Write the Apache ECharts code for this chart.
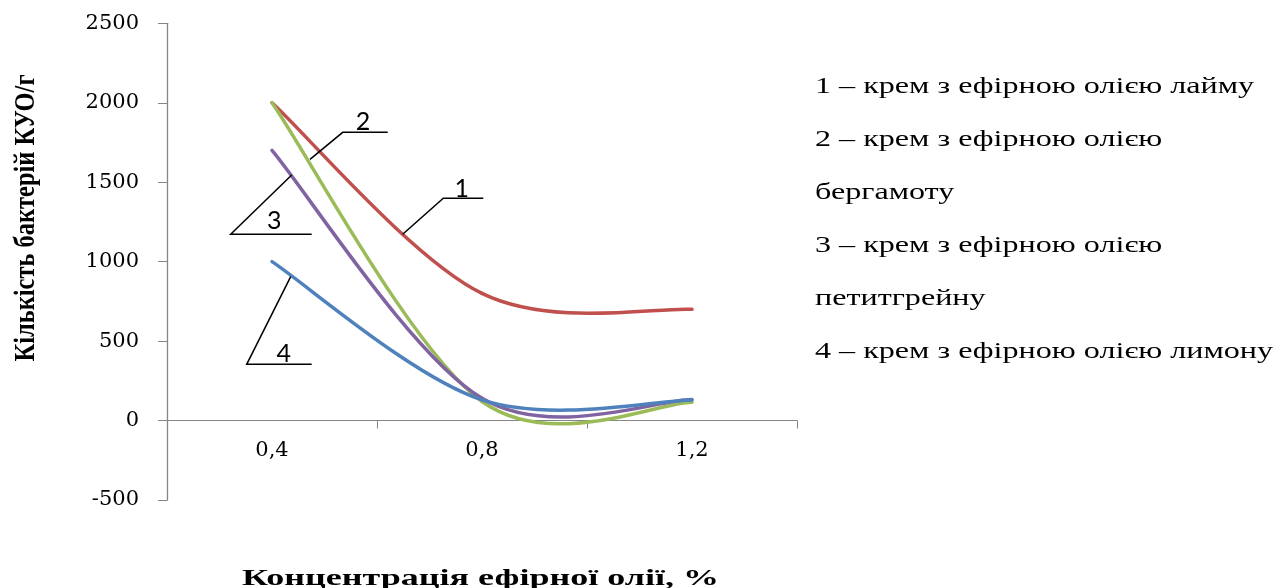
<!DOCTYPE html>
<html><head><meta charset="utf-8">
<script src="https://cdn.jsdelivr.net/npm/echarts@6.0.0/dist/echarts.min.js"></script>
<style>html,body{margin:0;padding:0;background:#fff}#c{width:1283px;height:588px}</style>
</head><body><div id="c"></div>
<script>
// ---- data ----
const categories = ['0,4', '0,8', '1,2'];
const limeValues = [2000, 800, 700];        // 1 – лайм
const bergamotValues = [2000, 120, 115];    // 2 – бергамот
const petitgrainValues = [1700, 140, 132];  // 3 – петитгрейн
const lemonValues = [1000, 130, 130];       // 4 – лимон
const yMin = -500, yMax = 2500, yStep = 500;
const legendLines = [
  '1 – крем з ефірною олією лайму',
  '2 – крем з ефірною олією',
  'бергамоту',
  '3 – крем з ефірною олією',
  'петитгрейну',
  '4 – крем з ефірною олією лимону'
];
const calloutLabels = ['1', '2', '3', '4'];
const xTitle = 'Концентрація ефірної олії, %';
const yTitle = 'Кількість бактерій КУО/г';

// ---- text measuring helper ----
const mctx = document.createElement('canvas').getContext('2d');
function tw(text, font) { mctx.font = font; return mctx.measureText(text).width; }

const legendFont = '24px "Liberation Serif"';
const legendScale = 458 / tw(legendLines[5], legendFont);
const xTitleFont = 'bold 23px "Liberation Serif"';
const xTitleScale = 477 / tw(xTitle, xTitleFont);
const yTitleFont = 'bold 22px "Liberation Serif"';
const yTitleScale = 287 / tw(yTitle, yTitleFont);

const graphics = [];
legendLines.forEach((t, i) => {
  graphics.push({
    type: 'text', x: 815, y: 87 + i * 53, scaleX: legendScale,
    style: { text: t, font: legendFont, fill: '#000', align: 'left', verticalAlign: 'middle', textAlign: 'left', textVerticalAlign: 'middle' }
  });
});
graphics.push({
  type: 'text', x: 480.5, y: 579, scaleX: xTitleScale,
  style: { text: xTitle, font: xTitleFont, fill: '#000', align: 'center', verticalAlign: 'middle', textAlign: 'center', textVerticalAlign: 'middle' }
});
graphics.push({
  type: 'text', x: 26, y: 218, rotation: Math.PI / 2, scaleX: yTitleScale, scaleY: 1.35,
  style: { text: yTitle, font: yTitleFont, fill: '#000', align: 'center', verticalAlign: 'middle', textAlign: 'center', textVerticalAlign: 'middle' }
});
const leaders = [
  [[402.7, 234.3], [443.3, 198.3], [483.3, 198.3]],
  [[310, 159.3], [342.7, 132.3], [387.7, 132.3]],
  [[291.7, 175], [230.7, 234.3], [311.7, 234.3]],
  [[290.7, 276.7], [246.7, 364.3], [311.7, 364.3]]
];
const calloutPos = [[461.7, 188.3], [363, 120.5], [274.2, 219.5], [283.8, 352.5]];
leaders.forEach(pts => graphics.push({
  type: 'polyline', z: 100, shape: { points: pts },
  style: { stroke: '#000', lineWidth: 1.5, fill: null }
}));
calloutLabels.forEach((t, i) => graphics.push({
  type: 'text', z: 100, x: calloutPos[i][0], y: calloutPos[i][1] + 1,
  style: { text: t, font: '25px Lato', fill: '#000', align: 'center', verticalAlign: 'middle', textAlign: 'center', textVerticalAlign: 'middle' }
}));

const axisGray = '#868686';
// Excel-style smoothed line (Catmull-Rom Bezier through the data points), drawn via the axes' scales
function curveSeries(name, values, color) {
  return {
    name, type: 'custom', coordinateSystem: 'cartesian2d',
    data: values.map((v, i) => [i, v]),
    encode: { x: 0, y: 1 },
    clip: false,
    renderItem: function (params, api) {
      if (params.dataIndex !== 0) return null;
      const pts = values.map((v, i) => api.coord([i, v]));
      const n = pts.length;
      const children = [];
      for (let i = 0; i < n - 1; i++) {
        const p0 = pts[Math.max(i - 1, 0)], p1 = pts[i], p2 = pts[i + 1], p3 = pts[Math.min(i + 2, n - 1)];
        children.push({
          type: 'bezierCurve',
          shape: {
            x1: p1[0], y1: p1[1], x2: p2[0], y2: p2[1],
            cpx1: p1[0] + (p2[0] - p0[0]) / 6, cpy1: p1[1] + (p2[1] - p0[1]) / 6,
            cpx2: p2[0] - (p3[0] - p1[0]) / 6, cpy2: p2[1] - (p3[1] - p1[1]) / 6
          },
          style: { stroke: color, lineWidth: 3.5, fill: null, lineCap: 'round' }
        });
      }
      return { type: 'group', children };
    }
  };
}

const chart = echarts.init(document.getElementById('c'), null, { renderer: 'canvas' });
chart.setOption({
  animation: false,
  backgroundColor: '#fff',
  grid: { left: 167, right: 486, top: 23.3, bottom: 88, containLabel: false },
  xAxis: {
    type: 'category', data: categories, boundaryGap: true,
    axisLine: { show: true, onZero: true, lineStyle: { color: axisGray, width: 1 } },
    axisTick: { show: true, length: 8, inside: false, lineStyle: { color: axisGray } },
    axisLabel: { color: '#000', fontFamily: 'DejaVu Serif', fontSize: 21, margin: -59.5 },
    splitLine: { show: false }
  },
  yAxis: {
    type: 'value', min: yMin, max: yMax, interval: yStep,
    axisLine: { show: true, lineStyle: { color: axisGray, width: 1.3 } },
    axisTick: { show: true, length: 9, inside: false, lineStyle: { color: axisGray } },
    axisLabel: { color: '#000', fontFamily: 'DejaVu Serif', fontSize: 21, margin: 28, formatter: v => String(v) },
    splitLine: { show: false }
  },
  series: [
    curveSeries('1', limeValues, '#C0504D'),
    curveSeries('2', bergamotValues, '#9BBB59'),
    curveSeries('3', petitgrainValues, '#8064A2'),
    curveSeries('4', lemonValues, '#4F81BD')
  ],
  graphic: { elements: graphics }
});
</script></body></html>
